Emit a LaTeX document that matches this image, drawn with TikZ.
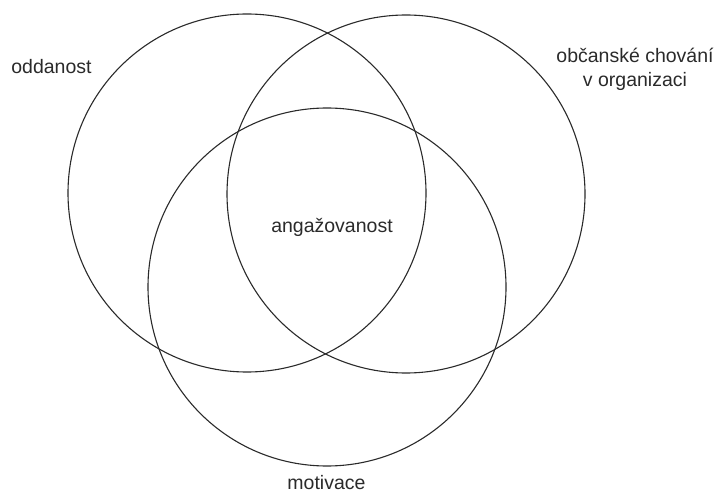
\documentclass[tikz,border=0pt]{standalone}
\usepackage{fontspec}
\setmainfont{Liberation Sans}
\definecolor{ink}{HTML}{2A2A2A}
\begin{document}
\begin{tikzpicture}[x=1pt,y=-1pt,
  ring/.style={circle, draw=ink, line width=1.1pt, inner sep=0pt, minimum size=358pt},
  lbl/.style={text=ink, font=\fontsize{19.5}{22}\selectfont, inner sep=0pt, anchor=base, align=center}]
\useasboundingbox (0,0) rectangle (717,494);
\node[ring] (komit) at (247,193) {};
\node[ring] (ocb) at (406,194) {};
\node[ring] (mot) at (327,287) {};
\node[lbl] (t1) at (51.5,74) {oddanost};
\node[lbl] (t2) at (635,87) {občanské chování\\[2pt]v organizaci};
\node[lbl] (t3) at (332,233) {angažovanost};
\node[lbl] (t4) at (326.5,489) {motivace};
\end{tikzpicture}
\end{document}
